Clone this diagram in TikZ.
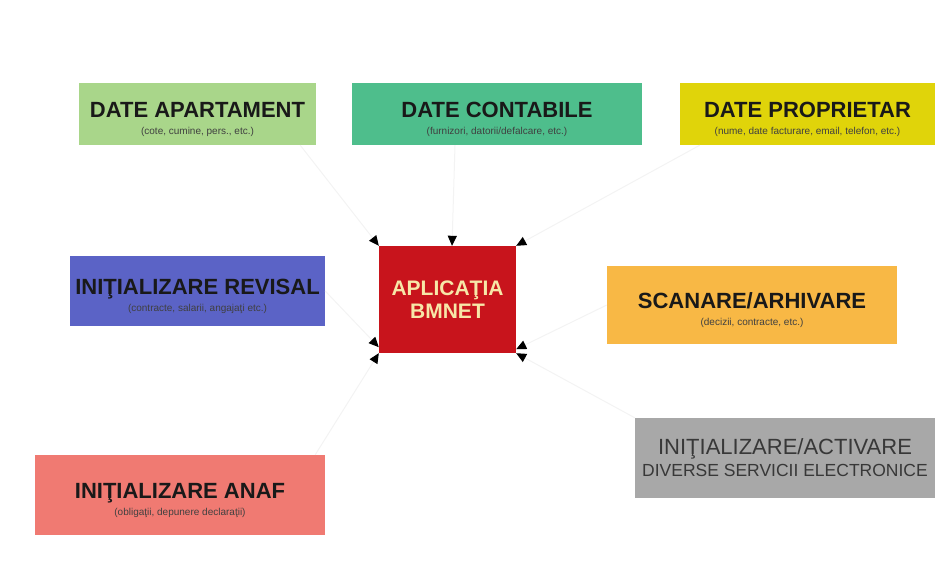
\documentclass[tikz,border=0pt]{standalone}
\usepackage{fontspec}
\setmainfont{Liberation Sans}
\usetikzlibrary{arrows.meta}

\definecolor{cApt}{HTML}{A9D68A}
\definecolor{cCont}{HTML}{4EBE8C}
\definecolor{cProp}{HTML}{E0D40A}
\definecolor{cRev}{HTML}{5B63C6}
\definecolor{cScan}{HTML}{F8B845}
\definecolor{cAnaf}{HTML}{F07A72}
\definecolor{cServ}{HTML}{A8A8A8}
\definecolor{cApp}{HTML}{C8141C}
\definecolor{cAppText}{HTML}{F7E7A8}
\definecolor{cSub}{HTML}{404040}
\definecolor{cLink}{HTML}{F3F3F3}

% title line with a strut that lowers the text block a little
\newcommand{\ttl}[1]{{\fontsize{22}{17}\selectfont\bfseries\color{black!90}\rule{0pt}{26pt}#1}}
\newcommand{\subt}[1]{{\fontsize{10}{17}\selectfont\color{cSub}#1}}

\tikzset{
  card/.style={rectangle, inner sep=0pt, align=center,
    font=\fontsize{10}{17}\selectfont},
  link/.style={draw=cLink, line width=1pt,
    -{Triangle[length=10pt,width=9pt,black]}},
}

\begin{document}
\begin{tikzpicture}[x=1pt,y=-1pt]
  \useasboundingbox (0,0) rectangle (936,583);

  % central application box
  \node[card, fill=cApp, minimum width=137pt, minimum height=107pt,
        font=\fontsize{21}{23}\selectfont\bfseries, text=cAppText]
        (app) at (447.5,299.5) {APLICAŢIA\\BMNET};

  % data sources (top row)
  \node[card, fill=cApt, minimum width=237pt, minimum height=62pt]
        (apt) at (197.5,114) {\ttl{DATE APARTAMENT}\\\subt{(cote, cumine, pers., etc.)}};
  \node[card, fill=cCont, minimum width=290pt, minimum height=62pt]
        (cont) at (497,114) {\ttl{DATE CONTABILE}\\\subt{(furnizori, datorii/defalcare, etc.)}};
  \node[card, fill=cProp, minimum width=255pt, minimum height=62pt]
        (prop) at (807.5,114) {\ttl{DATE PROPRIETAR}\\\subt{(nume, date facturare, email, telefon, etc.)}};

  % middle row
  \node[card, fill=cRev, minimum width=255pt, minimum height=70pt]
        (rev) at (197.5,291) {\ttl{INIŢIALIZARE REVISAL}\\\subt{(contracte, salarii, angajaţi etc.)}};
  \node[card, fill=cScan, minimum width=290pt, minimum height=78pt]
        (scan) at (752,305) {\ttl{SCANARE/ARHIVARE}\\\subt{(decizii, contracte, etc.)}};

  % bottom row
  \node[card, fill=cAnaf, minimum width=290pt, minimum height=80pt]
        (anaf) at (180,495) {\ttl{INIŢIALIZARE ANAF}\\\subt{(obligaţii, depunere declaraţii)}};
  \node[card, fill=cServ, minimum width=300pt, minimum height=80pt,
        font=\fontsize{17.5}{22}\selectfont, text=black!78]
        (serv) at (785,458) {{\fontsize{22}{22}\selectfont INIŢIALIZARE/ACTIVARE}\\DIVERSE SERVICII ELECTRONICE};

  % connectors into the application
  \draw[link] ([xshift=-16pt]apt.south east) -- (app.north west);
  \draw[link] ([xshift=-42pt]cont.south) -- ([xshift=4.5pt]app.north);
  \draw[link] ([xshift=20pt]prop.south west) -- (app.north east);
  \draw[link] (rev.east) -- ([yshift=6pt]app.south west);
  \draw[link] ([xshift=-10pt]anaf.north east) -- (app.south west);
  \draw[link] (scan.west) -- ([yshift=4pt]app.south east);
  \draw[link] (serv.north west) -- (app.south east);
\end{tikzpicture}
\end{document}
